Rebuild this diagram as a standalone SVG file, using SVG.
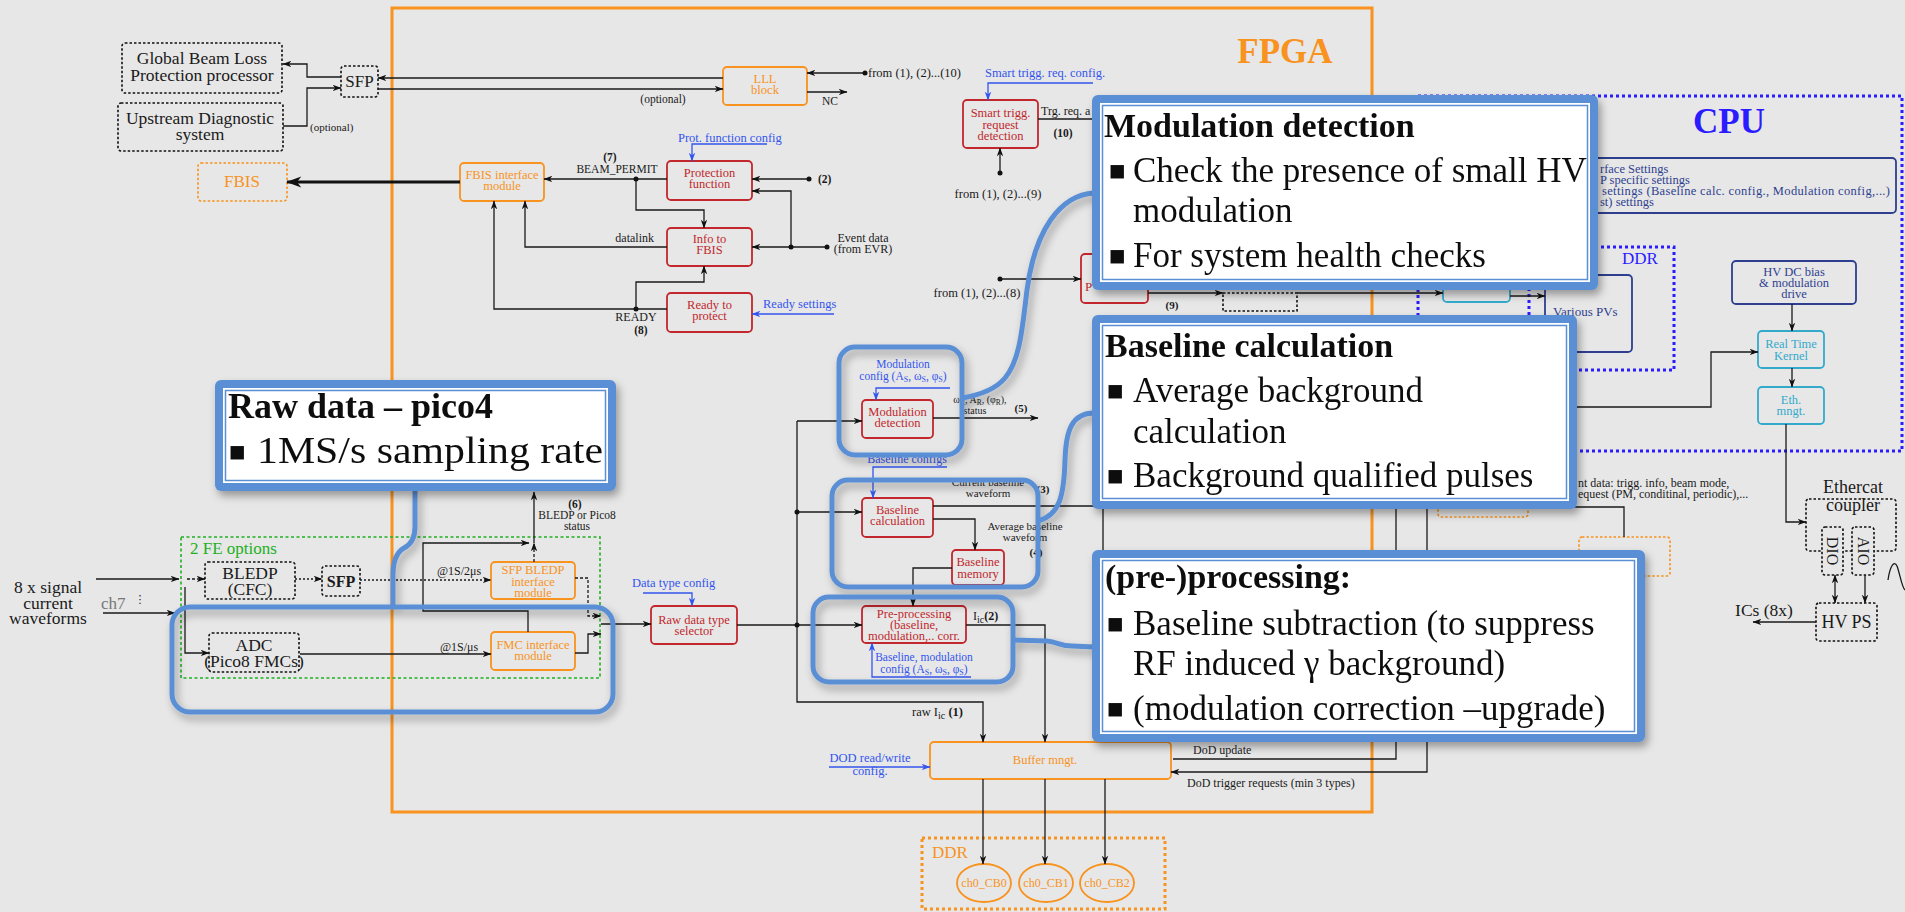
<svg xmlns="http://www.w3.org/2000/svg" width="1905" height="912" viewBox="0 0 1905 912">
<defs>
<style>
text{font-family:"Liberation Serif","Times New Roman",serif;fill:#1a1a1a}
.s{font-size:12px}
.n{font-size:12.5px;text-anchor:middle}
.m{text-anchor:middle}
.e{text-anchor:end}
.r{fill:#c1272d}
.o{fill:#f7931e}
.b{fill:#3355ee}
.db{fill:#2e3f8f}
.cy{fill:#33aacc}
.bd{font-weight:bold}
.L{font-size:17.5px}
.ln{fill:none;stroke:#1a1a1a;stroke-width:1.3}
.bl{fill:none;stroke:#3355ee;stroke-width:1.3}
.rbox{fill:none;stroke:#c1272d;stroke-width:1.8}
.obox{fill:none;stroke:#f7931e;stroke-width:1.8}
.dbox{fill:none;stroke:#2e3f8f;stroke-width:1.8}
.cbox{fill:none;stroke:#33aacc;stroke-width:1.8}
.dot{fill:none;stroke:#111;stroke-width:1.6;stroke-dasharray:2.5 2}
.odot{fill:none;stroke:#f7931e;stroke-width:1.6;stroke-dasharray:2.5 2}
.hl{fill:none;stroke:#5a8fd6;stroke-width:5}
.ct{font-size:35px;fill:#111}
.ch{font-size:34px;font-weight:bold;fill:#111}
.bu{font-family:"DejaVu Sans",sans-serif;font-size:27px;fill:#111}
.cb{fill:#5a8fd6}
.cw{fill:#fff}
.cl{fill:none;stroke:#5a8fd6;stroke-width:1.5}
</style>
<marker id="a" viewBox="0 0 10 8" refX="9.5" refY="4" markerWidth="9" markerHeight="7" orient="auto-start-reverse" markerUnits="userSpaceOnUse"><path d="M0,0.3 L10,4 L0,7.7 L2.8,4 z" fill="#111"/></marker>
<marker id="ab" viewBox="0 0 10 8" refX="9.5" refY="4" markerWidth="9" markerHeight="7" orient="auto" markerUnits="userSpaceOnUse"><path d="M0,0.3 L10,4 L0,7.7 L2.8,4 z" fill="#3355ee"/></marker>
<marker id="ak" viewBox="0 0 10 8" refX="9.5" refY="4" markerWidth="18" markerHeight="12" orient="auto" markerUnits="userSpaceOnUse"><path d="M0,0.3 L10,4 L0,7.7 L2.8,4 z" fill="#111"/></marker>
<filter id="sh" x="-10%" y="-10%" width="125%" height="130%"><feDropShadow dx="3" dy="5" stdDeviation="4" flood-color="#000" flood-opacity="0.35"/></filter>
</defs>
<rect x="0" y="0" width="1905" height="912" fill="#e7e7e7"/>

<!-- frames -->
<g id="fpga">
<rect x="392" y="8" width="980" height="804" fill="none" stroke="#f7931e" stroke-width="3"/>
<text x="1285" y="63" class="m bd o" font-size="35">FPGA</text>
</g>
<g id="cpu">
<rect x="1418" y="96" width="484" height="355" fill="none" stroke="#2b1cff" stroke-width="3" stroke-dasharray="3 3"/>
<text x="1729" y="133" class="m bd" font-size="35" style="fill:#2b1cff">CPU</text>
</g>
<g id="cpu-ddr">
<rect x="1529" y="247" width="145" height="123" fill="none" stroke="#2b1cff" stroke-width="3" stroke-dasharray="3 3"/>
<text x="1622" y="264" font-size="17" style="fill:#2b1cff">DDR</text>
</g>
<g id="fe-options">
<rect x="181" y="537" width="419" height="141" fill="none" stroke="#22b022" stroke-width="1.6" stroke-dasharray="3 2.5"/>
<text x="190" y="554" font-size="17" style="fill:#22b022">2 FE options</text>
</g>
<g id="fpga-ddr">
<rect x="922" y="838" width="243" height="71" fill="none" stroke="#f7931e" stroke-width="3" stroke-dasharray="3 3"/>
<text x="932" y="858" font-size="17" class="o">DDR</text>
</g>

<!-- nodes -->
<g id="global-beam-loss"><rect x="122" y="43" width="160" height="50" rx="3" class="dot"/><text x="202" y="64" class="m L">Global Beam Loss</text><text x="202" y="81" class="m L">Protection processor</text></g>
<g id="upstream"><rect x="118" y="103" width="165" height="48" rx="3" class="dot"/><text x="200" y="124" class="m L">Upstream Diagnostic</text><text x="200" y="140" class="m L">system</text></g>
<g id="sfp-top"><rect x="341" y="66" width="37" height="31" rx="3" class="dot"/><text x="359.5" y="87" class="m" font-size="17">SFP</text></g>
<g id="fbis"><rect x="198" y="163" width="89" height="38" rx="3" class="odot"/><text x="242" y="187" class="m o" font-size="17">FBIS</text></g>
<g id="lll"><rect x="723" y="67" width="84" height="38" rx="4" class="obox"/><text x="765" y="83" class="n o">LLL</text><text x="765" y="94" class="n o">block</text></g>
<g id="fbis-if"><rect x="460" y="163" width="84" height="38" rx="4" class="obox"/><text x="502" y="179" class="n o">FBIS interface</text><text x="502" y="190" class="n o">module</text></g>
<g id="prot-func"><rect x="667" y="161" width="85" height="39" rx="4" class="rbox"/><text x="709.5" y="177" class="n r">Protection</text><text x="709.5" y="188" class="n r">function</text></g>
<g id="info-fbis"><rect x="667" y="228" width="85" height="38" rx="4" class="rbox"/><text x="709.5" y="243" class="n r">Info to</text><text x="709.5" y="254" class="n r">FBIS</text></g>
<g id="ready"><rect x="667" y="293" width="85" height="39" rx="4" class="rbox"/><text x="709.5" y="309" class="n r">Ready to</text><text x="709.5" y="320" class="n r">protect</text></g>
<g id="smart-trigg"><rect x="963" y="100" width="75" height="48" rx="4" class="rbox"/><text x="1000.5" y="117" class="n r">Smart trigg.</text><text x="1000.5" y="129" class="n r">request</text><text x="1000.5" y="140" class="n r">detection</text></g>
<g id="p-box"><rect x="1081" y="254" width="67" height="49" rx="4" class="rbox"/><text x="1085" y="291" font-size="13" class="r">P</text></g>
<g id="dotted-box"><rect x="1223" y="293" width="74" height="18" class="dot"/></g>
<g id="cyan-box"><rect x="1443" y="262" width="67" height="40" rx="4" class="cbox"/></g>
<g id="various-pvs"><rect x="1545" y="275" width="87" height="77" rx="4" class="dbox"/><text x="1553" y="316" font-size="13" class="db">Various PVs</text></g>
<g id="settings"><rect x="1430" y="158" width="466" height="55" rx="4" class="dbox"/>
<text x="1600" y="173" font-size="12.5" class="db">rface Settings</text>
<text x="1600" y="184" font-size="12.5" class="db">P specific settings</text>
<text x="1602" y="195" font-size="12.5" class="db" textLength="288">settings (Baseline calc. config.,  Modulation config,...)</text>
<text x="1600" y="206" font-size="12.5" class="db">st) settings</text></g>
<g id="hv-dc"><rect x="1732" y="261" width="124" height="43" rx="4" class="dbox"/><text x="1794" y="276" class="n db">HV DC bias</text><text x="1794" y="287" class="n db">&amp; modulation</text><text x="1794" y="298" class="n db">drive</text></g>
<g id="rtk"><rect x="1758" y="331" width="66" height="37" rx="4" class="cbox"/><text x="1791" y="348" class="n cy">Real Time</text><text x="1791" y="360" class="n cy">Kernel</text></g>
<g id="eth"><rect x="1758" y="387" width="66" height="37" rx="4" class="cbox"/><text x="1791" y="404" class="n cy">Eth.</text><text x="1791" y="415" class="n cy">mngt.</text></g>
<g id="ethercat"><text x="1853" y="493" class="m" font-size="18">Ethercat</text><rect x="1806" y="499" width="90" height="52" rx="3" class="dot"/><text x="1853" y="511" class="m" font-size="18">coupler</text></g>
<g id="dio"><rect x="1822" y="527" width="21" height="48" rx="3" class="dot" style="fill:#e7e7e7"/><text transform="translate(1832.5,551) rotate(90)" class="m" font-size="16" dy="5.5">DIO</text></g>
<g id="aio"><rect x="1852" y="527" width="22" height="48" rx="3" class="dot" style="fill:#e7e7e7"/><text transform="translate(1863,551) rotate(90)" class="m" font-size="16" dy="5.5">AIO</text></g>
<g id="hvps"><rect x="1816" y="603" width="61" height="38" rx="3" class="dot"/><text x="1846.5" y="628" class="m" font-size="18">HV PS</text></g>
<g id="ics"><text x="1764" y="616" class="m" font-size="17.5">ICs (8x)</text></g>
<g id="signals"><text x="48" y="593" class="m L">8 x signal</text><text x="48" y="609" class="m L">current</text><text x="48" y="624" class="m L">waveforms</text><text x="101" y="609" font-size="17" style="fill:#777">ch7</text><text x="140" y="603" class="m" font-size="11" style="font-family:'DejaVu Sans',sans-serif">⋮</text></g>
<g id="bledp"><rect x="205" y="562" width="90" height="37" rx="3" class="dot"/><text x="250" y="579" class="m L">BLEDP</text><text x="250" y="595" class="m L">(CFC)</text></g>
<g id="sfp-fe"><rect x="322" y="566" width="38" height="30" rx="3" class="dot"/><text x="341" y="587" class="m bd" font-size="16">SFP</text></g>
<g id="adc"><rect x="209" y="633" width="90" height="39" rx="3" class="dot"/><text x="254" y="651" class="m L">ADC</text><text x="254" y="667" class="m L">(Pico8 FMCs)</text></g>
<g id="sfp-bledp-if"><rect x="491" y="562" width="84" height="37" rx="4" class="obox"/><text x="533" y="574" class="n o">SFP BLEDP</text><text x="533" y="586" class="n o">interface</text><text x="533" y="597" class="n o">module</text></g>
<g id="fmc-if"><rect x="491" y="632" width="84" height="38" rx="4" class="obox"/><text x="533" y="649" class="n o">FMC interface</text><text x="533" y="660" class="n o">module</text></g>
<g id="raw-sel"><rect x="651" y="606" width="86" height="38" rx="4" class="rbox"/><text x="694" y="624" class="n r">Raw data type</text><text x="694" y="635" class="n r">selector</text></g>
<g id="mod-det"><rect x="862" y="400" width="71" height="38" rx="4" class="rbox"/><text x="897.5" y="416" class="n r">Modulation</text><text x="897.5" y="427" class="n r">detection</text></g>
<g id="base-calc"><rect x="862" y="498" width="71" height="39" rx="4" class="rbox"/><text x="897.5" y="514" class="n r">Baseline</text><text x="897.5" y="525" class="n r">calculation</text></g>
<g id="base-mem"><rect x="952" y="550" width="52" height="35" rx="4" class="rbox"/><text x="978" y="566" class="n r">Baseline</text><text x="978" y="578" class="n r">memory</text></g>
<g id="pre-proc"><rect x="862" y="606" width="104" height="37" rx="4" class="rbox"/><text x="914" y="618" class="n r">Pre-processing</text><text x="914" y="629" class="n r">(baseline,</text><text x="914" y="640" class="n r">modulation,.. corr.</text></g>
<g id="buffer"><rect x="930" y="742" width="241" height="37" rx="4" class="obox"/><text x="1045" y="764" class="m o" font-size="12.5">Buffer mngt.</text></g>
<g id="cb0"><ellipse cx="984" cy="883" rx="27" ry="19" class="obox"/><text x="984" y="887" class="m o" font-size="12">ch0_CB0</text></g>
<g id="cb1"><ellipse cx="1046" cy="883" rx="27" ry="19" class="obox"/><text x="1046" y="887" class="m o" font-size="12">ch0_CB1</text></g>
<g id="cb2"><ellipse cx="1107" cy="883" rx="27" ry="19" class="obox"/><text x="1107" y="887" class="m o" font-size="12">ch0_CB2</text></g>
<g id="orange-box-a"><rect x="1438" y="470" width="90" height="47" rx="3" class="odot"/></g>
<g id="orange-box-b"><rect x="1579" y="537" width="91" height="39" rx="3" class="odot"/></g>

<!-- connectors -->
<g id="connectors">
<path d="M341,77 H307 V64 H283" class="ln" marker-end="url(#a)"/>
<path d="M283,126 H307 V88 H341" class="ln" marker-end="url(#a)"/>
<text x="310" y="131" font-size="11">(optional)</text>
<path d="M723,78 H378" class="ln" marker-end="url(#a)"/>
<path d="M378,89 H723" class="ln" marker-end="url(#a)"/>
<text x="663" y="103" class="m" font-size="11.5">(optional)</text>
<path d="M865,73 H807" class="ln" marker-end="url(#a)"/>
<circle cx="865" cy="73" r="2.5" fill="#111"/>
<text x="868" y="77" font-size="12.5">from (1), (2)...(10)</text>
<path d="M807,92 H847" class="ln" marker-end="url(#a)"/>
<text x="830" y="105" class="m" font-size="11.5">NC</text>
<path d="M460,182 H287" fill="none" stroke="#111" stroke-width="3" marker-end="url(#ak)"/>
<path d="M667,179 H544" class="ln" marker-end="url(#a)"/>
<circle cx="636" cy="179" r="2.5" fill="#111"/>
<text x="610" y="161" class="m bd" font-size="11.5">(7)</text>
<text x="617" y="173" class="m" font-size="11.5">BEAM_PERMIT</text>
<path d="M636,179 V210 H704 V228" class="ln" marker-end="url(#a)"/>
<path d="M667,247 H525 V201" class="ln" marker-end="url(#a)"/>
<text x="654" y="242" class="e" font-size="12">datalink</text>
<path d="M667,309 H494 V201" class="ln" marker-end="url(#a)"/>
<circle cx="636" cy="309" r="2.5" fill="#111"/>
<path d="M636,309 V282 H704 V266" class="ln" marker-end="url(#a)"/>
<text x="636" y="321" class="m" font-size="12">READY</text>
<text x="641" y="334" class="m bd" font-size="11.5">(8)</text>
<path d="M809,179 H752" class="ln" marker-end="url(#a)"/>
<circle cx="809" cy="179" r="2.5" fill="#111"/>
<text x="818" y="183" class="bd" font-size="11.5">(2)</text>
<path d="M791,247 V191 H752" class="ln" marker-end="url(#a)"/>
<path d="M827,247 H752" class="ln" marker-end="url(#a)"/>
<circle cx="791" cy="247" r="2.5" fill="#111"/>
<circle cx="827" cy="247" r="2.5" fill="#111"/>
<text x="863" y="242" class="m" font-size="12">Event data</text>
<text x="863" y="253" class="m" font-size="12">(from EVR)</text>
<text x="678" y="142" class="b" font-size="12.5">Prot. function config</text>
<path d="M767,144 H692 V161" class="bl" marker-end="url(#ab)"/>
<text x="763" y="308" class="b" font-size="12.5">Ready settings</text>
<path d="M834,314 H752" class="bl" marker-end="url(#ab)"/>
<text x="985" y="77" class="b" font-size="12.5">Smart trigg. req. config.</text>
<path d="M1093,83 H988 V100" class="bl" marker-end="url(#ab)"/>
<path d="M1000,173 V148" class="ln" marker-end="url(#a)"/>
<circle cx="1000" cy="173" r="2.5" fill="#111"/>
<text x="998" y="198" class="m" font-size="12.5">from (1), (2)...(9)</text>
<path d="M1038,119 H1095" class="ln"/>
<text x="1041" y="115" font-size="12">Trg. req. a</text>
<text x="1063" y="137" class="m bd" font-size="11.5">(10)</text>
<path d="M1000,279 H1081" class="ln" marker-end="url(#a)"/>
<circle cx="1000" cy="279" r="2.5" fill="#111"/>
<text x="977" y="297" class="m" font-size="12.5">from (1), (2)...(8)</text>
<path d="M1148,293 H1223" class="ln" marker-end="url(#a)"/>
<text x="1172" y="309" class="m bd" font-size="11">(9)</text>
<path d="M1297,293 H1443" class="ln" marker-end="url(#a)"/>
<path d="M1510,296 H1545" class="ln" marker-end="url(#a)"/>
<path d="M1792,304 V331" class="ln" marker-end="url(#a)"/>
<path d="M1792,368 V387" class="ln" marker-end="url(#a)"/>
<path d="M1570,407 H1711 V352 H1758" class="ln" marker-end="url(#a)"/>
<path d="M1786,424 V522 H1806" class="ln" marker-end="url(#a)"/>
<path d="M1835,575 V603" class="ln" marker-start="url(#a)" marker-end="url(#a)"/>
<path d="M1865,575 V603" class="ln" marker-end="url(#a)"/>
<path d="M1816,622 H1753" class="ln" marker-end="url(#a)"/>
<path d="M1888,580 C1890,566 1894,560 1897,566 C1900,574 1902,588 1905,590" class="ln"/>
<path d="M96,579 H179" class="ln" marker-end="url(#a)"/>
<path d="M103,613 H175" class="ln" marker-end="url(#a)"/>
<path d="M187,579 H205" class="ln" stroke-dasharray="3 2" marker-end="url(#a)"/>
<path d="M295,579 H322" class="ln" stroke-dasharray="2 2" marker-end="url(#a)"/>
<path d="M360,580 H491" class="ln" stroke-dasharray="2 2" marker-end="url(#a)"/>
<text x="459" y="575" class="m" font-size="12">@1S/2μs</text>
<path d="M185,587 V653 H209" class="ln" marker-end="url(#a)"/>
<path d="M300,654 H491" class="ln" marker-end="url(#a)"/>
<text x="459" y="651" class="m" font-size="12">@1S/μs</text>
<path d="M534,562 V543" class="ln" stroke-dasharray="3 2" marker-end="url(#a)"/>
<path d="M528,632 V611 H423 V543 H529" class="ln" marker-end="url(#a)"/>
<path d="M534,543 V492" class="ln" marker-end="url(#a)"/>
<text x="575" y="508" class="m bd" font-size="11.5">(6)</text>
<text x="577" y="519" class="m" font-size="11.5">BLEDP or Pico8</text>
<text x="577" y="530" class="m" font-size="11.5">status</text>
<path d="M575,578 H588 V616 H601" class="ln" stroke-dasharray="3 2" marker-end="url(#a)"/>
<path d="M575,653 H588 V634 H601" class="ln" marker-end="url(#a)"/>
<path d="M601,624 H651" class="ln" marker-end="url(#a)"/>
<text x="632" y="587" class="b" font-size="12.5">Data type config</text>
<path d="M643,593 H692 V606" class="bl" marker-end="url(#ab)"/>
<path d="M737,625 H862" class="ln" marker-end="url(#a)"/>
<circle cx="797" cy="625" r="2.5" fill="#111"/>
<path d="M797,421 H862" class="ln" marker-end="url(#a)"/>
<path d="M797,421 V702 H983 V742" class="ln" marker-end="url(#a)"/>
<path d="M797,512 H862" class="ln" marker-end="url(#a)"/>
<circle cx="797" cy="512" r="2.5" fill="#111"/>
<text x="912" y="716" font-size="12.5">raw I<tspan font-size="10" dy="3">ic</tspan><tspan dy="-3" font-weight="bold"> (1)</tspan></text>
<text x="903" y="368" class="m b" font-size="11.5">Modulation</text>
<text x="903" y="380" class="m b" font-size="11.5">config (A<tspan font-size="8" dy="2">S</tspan><tspan dy="-2">, ω</tspan><tspan font-size="8" dy="2">S</tspan><tspan dy="-2">, φ</tspan><tspan font-size="8" dy="2">S</tspan><tspan dy="-2">)</tspan></text>
<path d="M950,388 H876 V400" class="bl" marker-end="url(#ab)"/>
<path d="M933,418 H1038" class="ln" marker-end="url(#a)"/>
<text x="980" y="403" class="m" font-size="10">ω<tspan font-size="7.5" dy="2">R</tspan><tspan dy="-2">, A</tspan><tspan font-size="7.5" dy="2">R</tspan><tspan dy="-2">, (φ</tspan><tspan font-size="7.5" dy="2">R</tspan><tspan dy="-2">),</tspan></text>
<text x="975" y="414" class="m" font-size="10">status</text>
<text x="1021" y="412" class="m bd" font-size="11">(5)</text>
<text x="907" y="463" class="m b" font-size="12">Baseline configs</text>
<path d="M947,467 H873 V498" class="bl" marker-end="url(#ab)"/>
<path d="M933,506 H1103 V560" class="ln"/>
<text x="988" y="486" class="m" font-size="11">Current baseline</text>
<text x="988" y="497" class="m" font-size="11">waveform</text>
<text x="1043" y="493" class="m bd" font-size="11">(3)</text>
<path d="M933,519 H975 V550" class="ln" marker-end="url(#a)"/>
<text x="1025" y="530" class="m" font-size="11">Average baseline</text>
<text x="1025" y="541" class="m" font-size="11">waveform</text>
<text x="1036" y="556" class="m bd" font-size="11">(4)</text>
<path d="M952,568 H913 V606" class="ln" marker-end="url(#a)"/>
<path d="M966,625 H1045 V742" class="ln" marker-end="url(#a)"/>
<text x="973" y="620" font-size="12">I<tspan font-size="10" dy="3">ic</tspan><tspan dy="-3" font-weight="bold">(2)</tspan></text>
<text x="924" y="661" class="m b" font-size="11.5">Baseline, modulation</text>
<text x="924" y="673" class="m b" font-size="11.5">config (A<tspan font-size="8" dy="2">S</tspan><tspan dy="-2">, ω</tspan><tspan font-size="8" dy="2">S</tspan><tspan dy="-2">, φ</tspan><tspan font-size="8" dy="2">S</tspan><tspan dy="-2">)</tspan></text>
<path d="M971,677 H872 V643" class="bl" marker-end="url(#ab)"/>
<text x="870" y="762" class="m b" font-size="12.5">DOD read/write</text>
<text x="870" y="775" class="m b" font-size="12.5">config.</text>
<path d="M829,767 H930" class="bl" marker-end="url(#ab)"/>
<path d="M983,779 V864" class="ln" marker-end="url(#a)"/>
<path d="M1045,779 V864" class="ln" marker-end="url(#a)"/>
<path d="M1105,779 V864" class="ln" marker-end="url(#a)"/>
<path d="M1173,759 H1396 V505" class="ln"/>
<text x="1193" y="754" font-size="12">DoD update</text>
<path d="M1427,505 V772 H1171" class="ln" marker-end="url(#a)"/>
<text x="1187" y="787" font-size="12">DoD trigger requests (min 3 types)</text>
<path d="M1565,507 H1624 V537" class="ln"/>
<text x="1578" y="487" font-size="12">nt data: trigg. info, beam mode,</text>
<text x="1578" y="498" font-size="12">equest (PM, conditinal, periodic),...</text>
</g>

<!-- highlight regions -->
<g id="highlights" filter="url(#sh)">
<rect x="839" y="347" width="123" height="108" rx="16" class="hl"/>
<rect x="832" y="480" width="206" height="107" rx="16" class="hl"/>
<rect x="813" y="597" width="200" height="85" rx="16" class="hl"/>
<rect x="172" y="607" width="441" height="105" rx="18" class="hl"/>
<path d="M1094,193 C1060,195 1035,230 1027,290 C1022,330 1020,360 1005,378 C995,390 980,395 962,398" class="hl" stroke-width="4.5"/>
<path d="M1094,413 C1072,413 1066,430 1065,460 C1064,495 1060,515 1038,521" class="hl" stroke-width="4.5"/>
<path d="M1013,640 L1047,641 C1058,642 1060,646 1072,646 L1094,647" class="hl" stroke-width="4.5"/>
<path d="M415,489 L415,527 C415,540 410,545 404,548 C397,552 393,560 393,575 L393,607" class="hl" stroke-width="4.5"/>
</g>

<!-- callouts -->
<g id="callout-raw" filter="url(#sh)">
<rect x="215" y="380" width="401" height="111" rx="6" class="cb"/>
<rect x="223" y="388" width="385" height="95" class="cw"/>
<rect x="225.5" y="390.5" width="380" height="90" class="cl"/>
<text x="228" y="418" font-size="36" font-weight="bold" style="fill:#111">Raw data – pico4</text>
<text x="228" y="460" class="bu">▪</text>
<text x="257" y="463" font-size="37" textLength="346" lengthAdjust="spacingAndGlyphs" style="fill:#111">1MS/s sampling rate</text>
</g>
<g id="callout-mod" filter="url(#sh)">
<rect x="1092" y="95" width="506" height="195" rx="6" class="cb"/>
<rect x="1100" y="103" width="490" height="179" class="cw"/>
<rect x="1102.5" y="105.5" width="485" height="174" class="cl"/>
<text x="1104" y="137" class="ch">Modulation detection</text>
<text x="1108" y="179" class="bu">▪</text>
<text x="1133" y="182" class="ct">Check the presence of small HV</text>
<text x="1133" y="222" class="ct">modulation</text>
<text x="1108" y="264" class="bu">▪</text>
<text x="1133" y="267" class="ct">For system health checks</text>
</g>
<g id="callout-base" filter="url(#sh)">
<rect x="1092" y="315" width="485" height="194" rx="6" class="cb"/>
<rect x="1100" y="323" width="469" height="178" class="cw"/>
<rect x="1102.5" y="325.5" width="464" height="173" class="cl"/>
<text x="1105" y="357" class="ch">Baseline calculation</text>
<text x="1106" y="399" class="bu">▪</text>
<text x="1133" y="402" class="ct">Average background</text>
<text x="1133" y="443" class="ct">calculation</text>
<text x="1106" y="484" class="bu">▪</text>
<text x="1133" y="487" class="ct">Background qualified pulses</text>
</g>
<g id="callout-pre" filter="url(#sh)">
<rect x="1092" y="550" width="553" height="192" rx="6" class="cb"/>
<rect x="1100" y="558" width="537" height="176" class="cw"/>
<rect x="1102.5" y="560.5" width="532" height="171" class="cl"/>
<text x="1105" y="588" class="ch">(pre-)processing:</text>
<text x="1106" y="632" class="bu">▪</text>
<text x="1133" y="635" class="ct">Baseline subtraction (to suppress</text>
<text x="1133" y="675" class="ct">RF induced γ background)</text>
<text x="1106" y="717" class="bu">▪</text>
<text x="1133" y="720" class="ct">(modulation correction –upgrade)</text>
</g>
</svg>
